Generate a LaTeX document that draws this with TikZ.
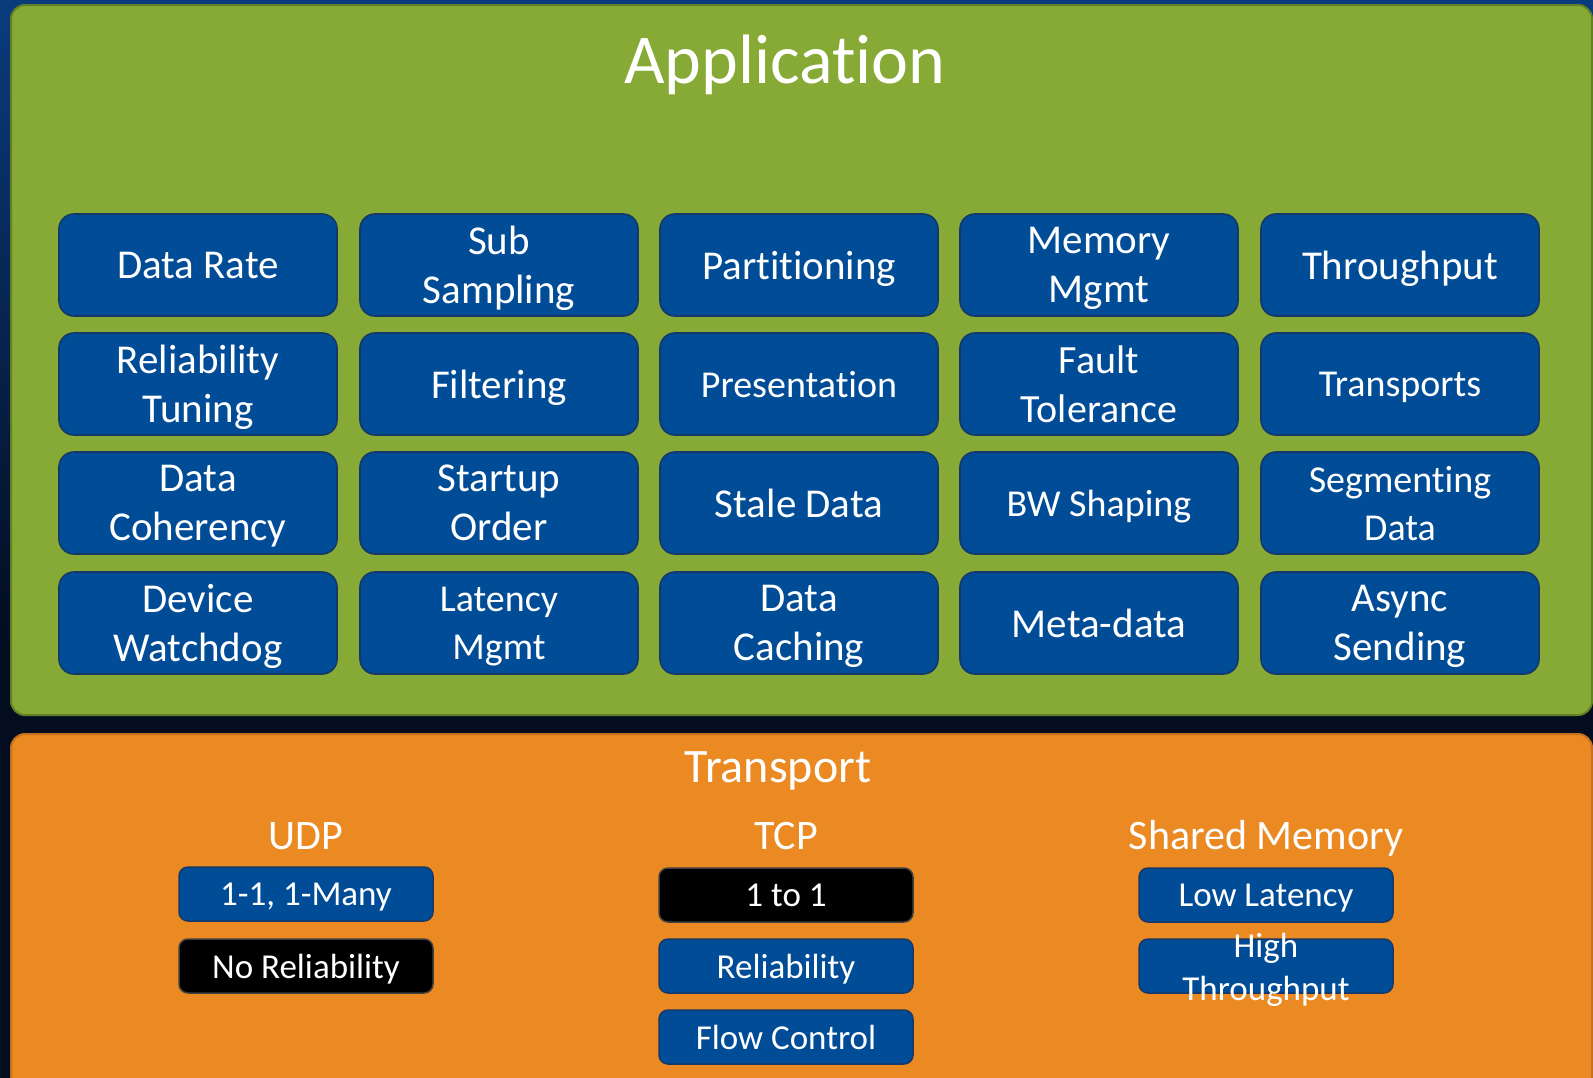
\documentclass[tikz,border=0pt]{standalone}
\usepackage{fontspec}
\setmainfont{Carlito}[Ligatures={NoCommon,NoContextual,NoRare},Contextuals={NoAlternate}]

\definecolor{appgreen}{RGB}{134,170,53}
\definecolor{appgreenedge}{RGB}{98,128,38}
\definecolor{tileblue}{RGB}{0,76,151}
\definecolor{tileedge}{RGB}{22,56,104}
\definecolor{trorange}{RGB}{235,138,35}
\definecolor{trorangeedge}{RGB}{196,112,32}
\definecolor{bgtop}{RGB}{8,112,200}
\definecolor{bgmid}{RGB}{10,60,125}
\definecolor{bgdark}{RGB}{4,12,32}

\pgfdeclareverticalshading{slidebg}{100bp}{color(0bp)=(bgdark); color(45bp)=(bgdark); color(75bp)=(bgmid); color(100bp)=(bgtop)}

% two centred lines whose baseline is the last line
\def\twol#1#2{\vbox{\halign{\hfil##\hfil\cr#1\cr#2\cr}}}
% "ti" set as two separate letters
\newcommand\tI{t\kern0pt i}

\tikzset{
  tile/.style={draw=tileedge, line width=1.6pt, fill=tileblue, rounded corners=15pt,
    minimum width=278pt, minimum height=102pt, inner sep=0pt, text=white,
    text depth=0pt, font=\fontsize{41}{49}\selectfont},
  tilesm/.style={tile, font=\fontsize{38}{48}\selectfont},
  chip/.style={draw=tileedge, line width=1.5pt, fill=tileblue, rounded corners=9pt,
    minimum width=254pt, minimum height=54pt, inner sep=0pt, text=white,
    text depth=0pt, font=\fontsize{35}{43}\selectfont},
  chipdark/.style={chip, fill=black, draw=black!75},
  heading/.style={text=white, anchor=base, inner sep=0pt, font=\fontsize{42}{50}\selectfont},
  layer/.style={line width=2pt, rounded corners=14pt},
}

\begin{document}
\begin{tikzpicture}[x=1pt, y=-1pt]
  \clip (0,0) rectangle (1593,1077);
  \shade[shading=slidebg] (0,0) rectangle (1593,1077);

  % layer panels
  \draw[layer, fill=appgreen, draw=appgreenedge] (11,5) rectangle (1592,715);
  \draw[layer, fill=trorange, draw=trorangeedge] (11,734) rectangle (1592,1110);

  % Application layer
  \node[heading, font=\fontsize{70}{84}\selectfont] (apptitle) at (785,83) {Applica\tI on};

  \node[tile] (datarate)  at (198,265)  {Data Rate};
  \node[tile] (subsamp)   at (499,265)  {\twol{Sub}{Sampling}};
  \node[tile] (partition) at (799,265)  {Par\tI\tI oning};
  \node[tile] (memmgmt)   at (1099,265) {\twol{Memory}{Mgmt}};
  \node[tile] (thruput)   at (1400,265) {Throughput};

  \node[tile]   (reltune)  at (198,384)  {\twol{Reliability}{Tuning}};
  \node[tile]   (filter)   at (499,384)  {Filtering};
  \node[tilesm] (present)  at (799,384)  {Presenta\tI on};
  \node[tile, font=\fontsize{40}{49}\selectfont] (fault) at (1099,384) {\twol{Fault}{Tolerance}};
  \node[tilesm] (transps)  at (1400,384) {Transports};

  \node[tile]   (coherency) at (198,503)  {\twol{Data}{Coherency}};
  \node[tile]   (startup)   at (499,503)  {\twol{Startup}{Order}};
  \node[tile]   (stale)     at (799,503)  {Stale Data};
  \node[tilesm] (bwshape)   at (1099,503) {BW Shaping};
  \node[tilesm] (segment)   at (1400,503) {\twol{Segmen\tI ng}{Data}};

  \node[tile]   (watchdog) at (198,623)  {\twol{Device}{Watchdog}};
  \node[tilesm] (latency)  at (499,623)  {\twol{Latency}{Mgmt}};
  \node[tile]   (caching)  at (799,623)  {\twol{Data}{Caching}};
  \node[tile]   (metadata) at (1099,623) {Meta-data};
  \node[tile]   (async)    at (1400,623) {\twol{Async}{Sending}};

  % Transport layer
  \node[heading, font=\fontsize{48}{58}\selectfont] (trtitle) at (778,782) {Transport};

  \node[heading] (udp)    at (306,849)  {UDP};
  \node[heading] (tcp)    at (786,849)  {TCP};
  \node[heading] (shmem)  at (1266,849) {Shared Memory};

  \node[chip]     (udpmany)  at (306,894)  {1-1, 1-Many};
  \node[chipdark] (udpnorel) at (306,966)  {No Reliability};

  \node[chipdark] (tcpone)   at (786,895)  {1 to 1};
  \node[chip]     (tcprel)   at (786,966)  {Reliability};
  \node[chip]     (tcpflow)  at (786,1037) {Flow Control};

  \node[chip]     (shmlat)   at (1266,895) {Low Latency};
  % the two lines spill over the chip's top and bottom edges
  \node[chip]     (shmthru)  at (1266,966) {\raisebox{-34pt}[0pt][0pt]{\twol{High}{Throughput}}};
\end{tikzpicture}
\end{document}
